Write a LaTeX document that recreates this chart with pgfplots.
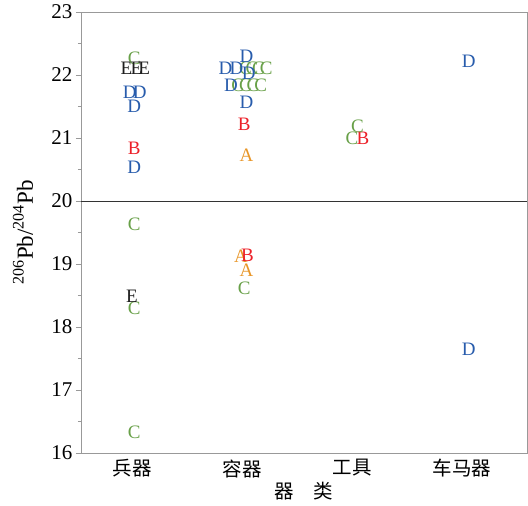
\documentclass[border=0pt]{standalone}
\usepackage{fontspec}
\setmainfont{Liberation Serif}
\newfontfamily\cjk{Noto Sans CJK SC}
\usepackage{pgfplots}
\pgfplotsset{compat=1.18}
\definecolor{colA}{RGB}{232,150,40}
\definecolor{colB}{RGB}{236,32,40}
\definecolor{colC}{RGB}{104,160,72}
\definecolor{colD}{RGB}{40,92,172}
\definecolor{colE}{RGB}{30,30,30}
\pgfplotsset{letter/.style={only marks, mark=text, text mark as node=true, text mark={#1},
     text mark style={font=\fontsize{19}{20}\selectfont, anchor=center, inner sep=0pt}}}
\begin{document}
\begin{tikzpicture}
\begin{axis}[
  scale only axis, width=446pt, height=441pt,
  xmin=-0.464, xmax=3.59, ymin=16, ymax=23,
  xtick={0,1,2,3}, xticklabels={兵器,容器,工具,车马器},
  x tick label style={font=\cjk\fontsize{19.5}{20}\selectfont, yshift=2pt},
  major x tick style={draw=none},
  ytick={16,17,...,23}, minor y tick num=1,
  tick align=outside, ytick pos=left, xtick pos=bottom,
  axis line style={gray!80}, every tick/.style={gray!80},
  major tick length=5pt, minor tick length=3pt,
  /pgf/number format/assume math mode=true,
  y tick label style={font=\fontsize{21}{22}\selectfont},
  ylabel={\textsuperscript{206}Pb/\textsuperscript{204}Pb},
  ylabel style={font=\fontsize{23}{24}\selectfont, at={(axis description cs:-0.13,0.5)}, anchor=center},
  xlabel={器\quad 类},
  xlabel style={font=\cjk\fontsize{19.5}{20}\selectfont, yshift=2pt},
  clip=false,
]
\addplot[draw=gray!40!black, mark=none, line width=0.6pt] coordinates {(-0.464,20) (3.59,20)};
% A
\addplot[color=colA, letter={A}] coordinates {
 (1.04,20.73) (0.99,19.13) (1.04,18.90)
};
% B
\addplot[color=colB, letter={B}] coordinates {
 (0.02,20.83) (1.02,21.21) (1.05,19.13) (2.10,21.00)
};
% C
\addplot[color=colC, letter={C}] coordinates {
 (0.02,22.27) (0.02,19.63) (0.02,18.29) (0.02,16.33)
 (1.03,22.11) (1.09,22.11) (1.15,22.11) (1.22,22.11)
 (0.96,21.83) (1.03,21.83) (1.10,21.83) (1.17,21.83)
 (1.02,18.62)
 (2.05,21.18) (2.00,21.00)
};
% D
\addplot[color=colD, letter={D}] coordinates {
 (-0.02,21.73) (0.07,21.73) (0.02,21.50) (0.02,20.54)
 (1.04,22.30) (0.85,22.11) (0.95,22.11) (1.06,22.03) (0.90,21.83) (1.04,21.56)
 (3.06,22.21) (3.06,17.65)
};
% E
\addplot[color=colE, letter={E}] coordinates {
 (-0.05,22.10) (0.04,22.10) (0.11,22.10) (0.00,18.49)
};
\end{axis}
\path ([shift={(-81pt,-53pt)}]current axis.south west) ([shift={(1pt,12pt)}]current axis.north east);
\end{tikzpicture}
\end{document}
